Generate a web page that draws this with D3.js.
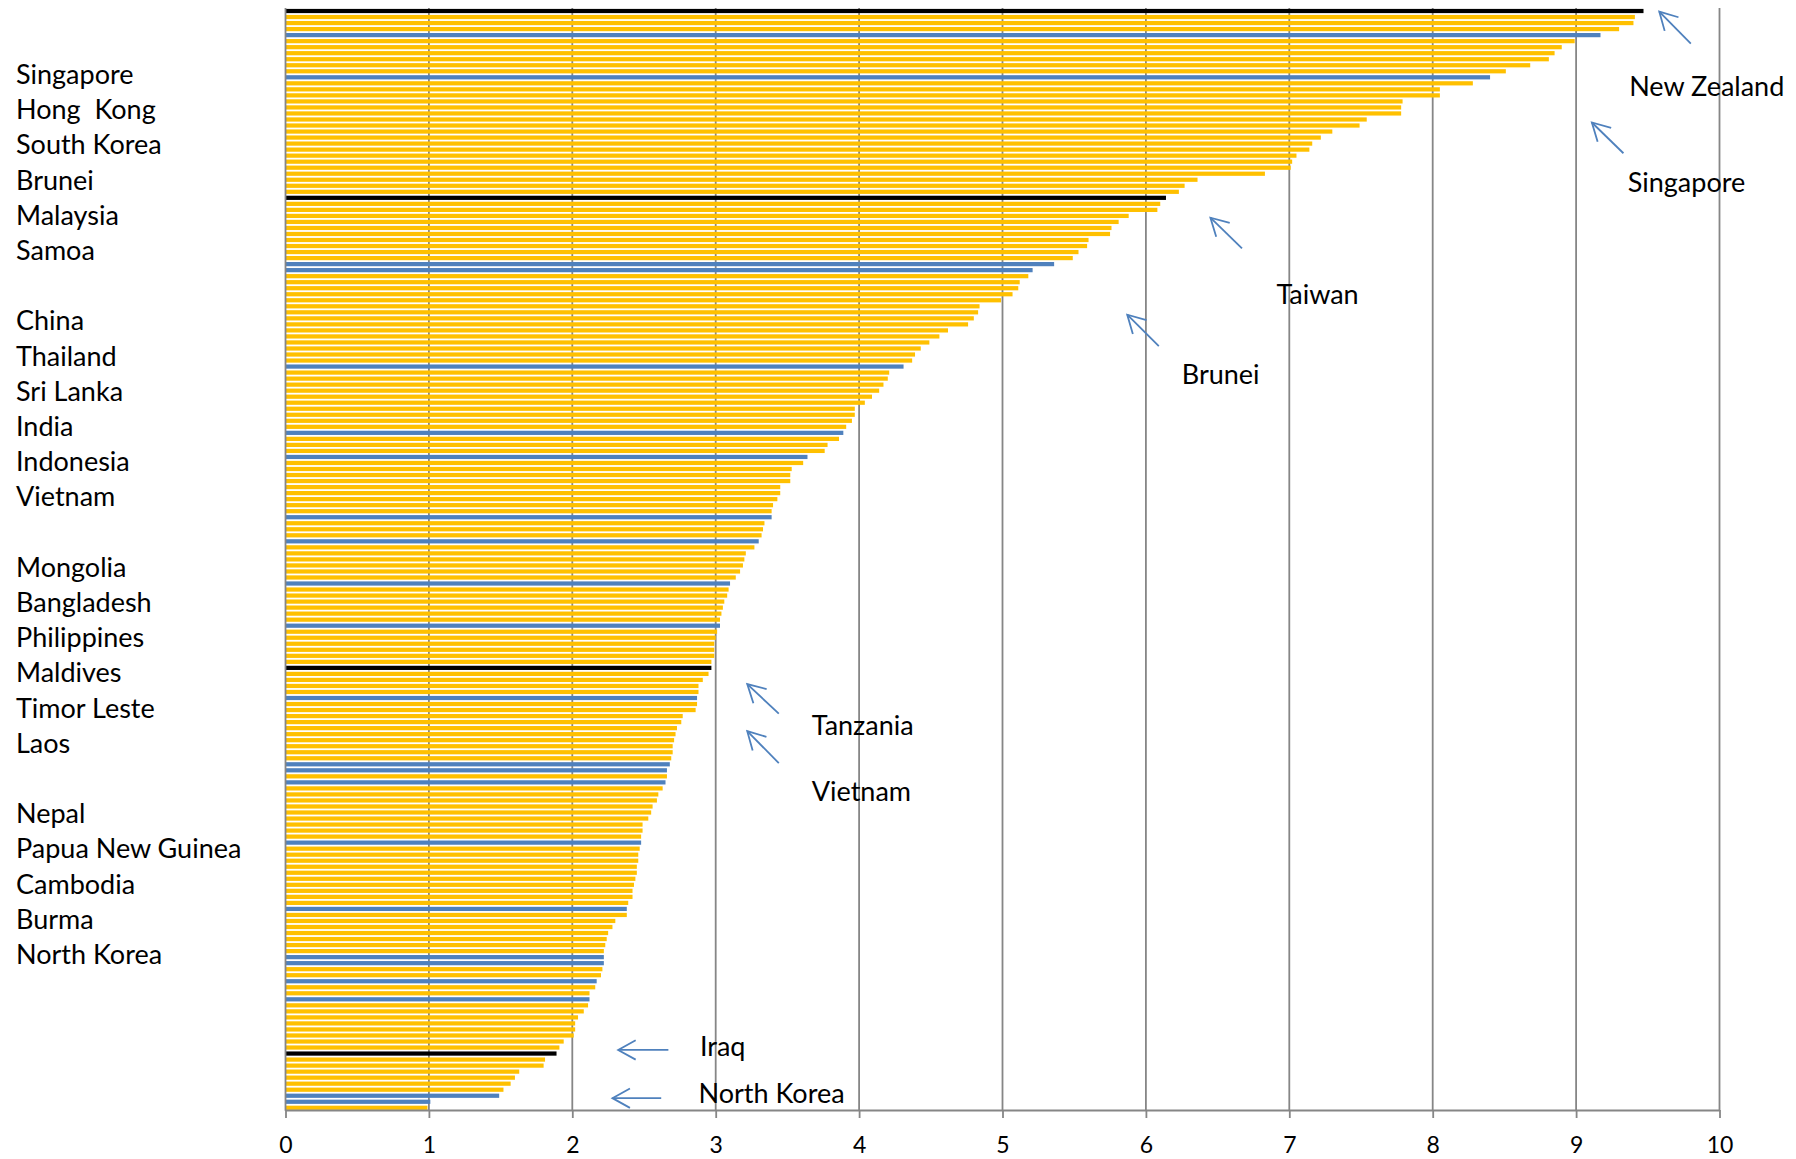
<!DOCTYPE html>
<html>
<head>
<meta charset="utf-8">
<script src="https://cdn.jsdelivr.net/npm/d3@7"></script>
<style>
  body { margin: 0; background: #fff; }
  svg text { font-family: Lato, "Open Sans", sans-serif; white-space: pre; }
</style>
</head>
<body>
<svg id="chart" width="1796" height="1159"></svg>
<script>
// scores, top to bottom (one bar per country)
var scores = [
  9.47, 9.41, 9.40, 9.30, 9.17, 8.99, 8.90, 8.85, 8.81, 8.68,
  8.51, 8.40, 8.28, 8.05, 8.05, 7.79, 7.78, 7.78, 7.54, 7.49,
  7.30, 7.22, 7.16, 7.14, 7.05, 7.02, 7.01, 6.83, 6.36, 6.27,
  6.23, 6.14, 6.10, 6.08, 5.88, 5.81, 5.76, 5.75, 5.60, 5.59,
  5.53, 5.49, 5.36, 5.21, 5.18, 5.12, 5.11, 5.07, 4.99, 4.84,
  4.83, 4.80, 4.76, 4.62, 4.56, 4.49, 4.43, 4.39, 4.37, 4.31,
  4.21, 4.20, 4.17, 4.14, 4.09, 4.04, 3.97, 3.97, 3.95, 3.91,
  3.89, 3.86, 3.78, 3.76, 3.64, 3.61, 3.53, 3.52, 3.52, 3.45,
  3.45, 3.43, 3.40, 3.39, 3.39, 3.34, 3.33, 3.32, 3.30, 3.27,
  3.21, 3.20, 3.19, 3.17, 3.14, 3.10, 3.09, 3.08, 3.06, 3.05,
  3.04, 3.03, 3.03, 3.01, 3.00, 2.99, 2.99, 2.99, 2.97, 2.97,
  2.95, 2.91, 2.88, 2.88, 2.87, 2.87, 2.86, 2.77, 2.76, 2.73,
  2.72, 2.71, 2.70, 2.70, 2.69, 2.68, 2.66, 2.66, 2.65, 2.63,
  2.60, 2.59, 2.56, 2.55, 2.53, 2.49, 2.49, 2.48, 2.48, 2.47,
  2.46, 2.46, 2.45, 2.45, 2.44, 2.43, 2.42, 2.42, 2.39, 2.38,
  2.38, 2.30, 2.28, 2.25, 2.24, 2.23, 2.22, 2.22, 2.22, 2.21,
  2.20, 2.17, 2.16, 2.12, 2.12, 2.11, 2.08, 2.04, 2.02, 2.02,
  2.01, 1.94, 1.91, 1.89, 1.81, 1.80, 1.63, 1.60, 1.57, 1.52,
  1.49, 1.01, 0.99
]

// rows drawn in blue (Asia-Pacific) and black (comparison countries)
var asiaRows = [4, 11, 42, 43, 59, 70, 74, 84, 88, 95, 102, 114, 125, 126, 128,
                138, 149, 157, 158, 161, 164, 180, 181]
var otherRows = [0, 31, 109, 173]

// list on the left, blanks are gaps
var asiaList = ['Singapore', 'Hong  Kong', 'South Korea', 'Brunei', 'Malaysia', 'Samoa', '',
                'China', 'Thailand', 'Sri Lanka', 'India', 'Indonesia', 'Vietnam', '',
                'Mongolia', 'Bangladesh', 'Philippines', 'Maldives', 'Timor Leste', 'Laos', '',
                'Nepal', 'Papua New Guinea', 'Cambodia', 'Burma', 'North Korea']

var xTicks = [0, 1, 2, 3, 4, 5, 6, 7, 8, 9, 10]

// callouts: arrow tip / tail and label, in (score, row) units
var callouts = [
  {label: 'New Zealand', tip: [9.58, 0.1],   tail: [9.80, 5.4],   at: [9.37, 12.3]},
  {label: 'Singapore',   tip: [9.11, 18.5],  tail: [9.33, 23.6],  at: [9.36, 28.3]},
  {label: 'Taiwan',      tip: [6.45, 34.3],  tail: [6.67, 39.4],  at: [6.91, 46.9]},
  {label: 'Brunei',      tip: [5.87, 50.4],  tail: [6.09, 55.6],  at: [6.25, 60.2]},
  {label: 'Tanzania',    tip: [3.22, 111.7], tail: [3.44, 116.6], at: [3.67, 118.4]},
  {label: 'Vietnam',     tip: [3.22, 119.5], tail: [3.44, 124.8], at: [3.67, 129.4]},
  {label: 'Iraq',        tip: [2.32, 172.4], tail: [2.67, 172.4], at: [2.89, 171.7]},
  {label: 'North Korea', tip: [2.28, 180.4], tail: [2.62, 180.4], at: [2.88, 179.5]}
]

var W = 1796, H = 1159
var plotTop = 8, plotBottom = 1110.8
var svg = d3.select('#chart')

var x = d3.scaleLinear().domain([0, 10]).range([285.5, 1719.5])
var y = d3.scaleBand()
          .domain(d3.range(scores.length))
          .range([plotTop, plotBottom])
          .paddingInner(0.3)
          .paddingOuter(0.15)

// y for a fractional row number
function rowY (r) {
  return plotTop + (r + 0.5) * y.step()
}

function barColor (i) {
  if (otherRows.includes(i)) return '#000000'
  if (asiaRows.includes(i)) return '#4F81BD'
  return '#FFC000'
}

// vertical gridlines, behind the bars
svg.append('g')
   .selectAll('line')
   .data(xTicks.slice(1))
   .enter()
   .append('line')
   .attr('x1', d => x(d))
   .attr('x2', d => x(d))
   .attr('y1', plotTop)
   .attr('y2', plotBottom)
   .attr('stroke', '#868686')
   .attr('stroke-width', 1.8)

// bars
svg.append('g')
   .selectAll('rect')
   .data(scores)
   .enter()
   .append('rect')
   .attr('x', x(0))
   .attr('y', (d, i) => y(i))
   .attr('width', d => x(d) - x(0))
   .attr('height', y.bandwidth())
   .attr('fill', (d, i) => barColor(i))

// left axis line
svg.append('line')
   .attr('x1', x(0)).attr('x2', x(0))
   .attr('y1', plotTop).attr('y2', plotBottom)
   .attr('stroke', '#868686')
   .attr('stroke-width', 1.8)

// bottom axis
var xAxis = d3.axisBottom(x)
              .tickValues(xTicks)
              .tickFormat(d3.format('d'))
              .tickSize(8)
              .tickSizeOuter(0)
              .tickPadding(19)

var gx = svg.append('g')
            .attr('transform', `translate(0,${plotBottom - 0.8})`)
            .call(xAxis)
gx.select('.domain').attr('stroke', '#868686').attr('stroke-width', 1.8)
gx.selectAll('.tick line').attr('stroke', '#868686').attr('stroke-width', 1.8)
gx.selectAll('.tick text')
  .attr('fill', '#000')
  .style('font-family', 'Lato, sans-serif')
  .style('font-size', '23px')

// list of countries on the left
svg.append('g')
   .selectAll('text')
   .data(asiaList)
   .enter()
   .append('text')
   .attr('x', 16)
   .attr('y', (d, i) => 73.5 + i * 35.2)
   .attr('dominant-baseline', 'central')
   .style('font-size', '27px')
   .attr('fill', '#000')
   .text(d => d)

// callout arrows
var arrowG = svg.append('g')
               .attr('stroke', '#4F81BD')
               .attr('stroke-width', 1.8)
               .attr('fill', 'none')

callouts.forEach(function (c) {
  var tx = x(c.tip[0]), ty = rowY(c.tip[1])
  var sx = x(c.tail[0]), sy = rowY(c.tail[1])
  var ang = Math.atan2(sy - ty, sx - tx)
  var len = 20, spread = 29 * Math.PI / 180
  arrowG.append('line')
        .attr('x1', sx).attr('y1', sy)
        .attr('x2', tx).attr('y2', ty)
  arrowG.append('path')
        .attr('d', d3.line()([
          [tx + len * Math.cos(ang - spread), ty + len * Math.sin(ang - spread)],
          [tx, ty],
          [tx + len * Math.cos(ang + spread), ty + len * Math.sin(ang + spread)]
        ]))

  svg.append('text')
     .attr('x', x(c.at[0]))
     .attr('y', rowY(c.at[1]))
     .attr('dominant-baseline', 'central')
     .style('font-size', '27px')
     .attr('fill', '#000')
     .text(c.label)
})
</script>
</body>
</html>
